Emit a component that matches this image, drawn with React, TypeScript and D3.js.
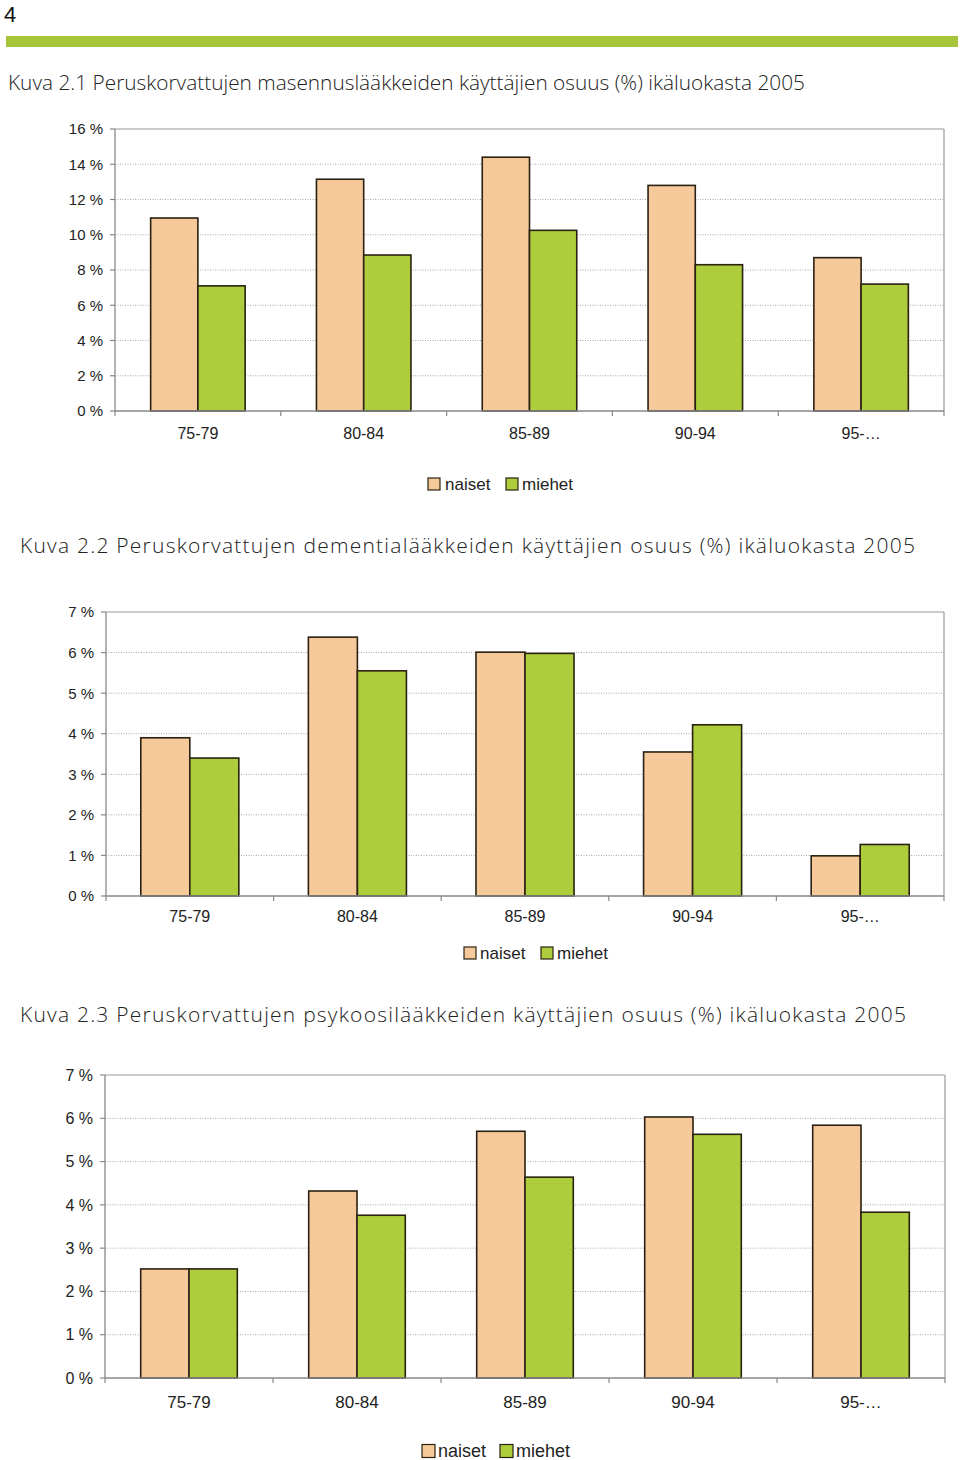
import React from "react";
import * as d3 from "d3";

const categories = ["75-79", "80-84", "85-89", "90-94", "95-…"];
const seriesNames = ["naiset", "miehet"];
const colors = ["#f6c99b", "#aecd3c"];

const masennusNaiset = [10.95, 13.15, 14.4, 12.8, 8.7];
const masennusMiehet = [7.1, 8.85, 10.25, 8.3, 7.2];
const masennusTicks = [0, 2, 4, 6, 8, 10, 12, 14, 16];

const dementiaNaiset = [3.9, 6.38, 6.01, 3.55, 0.99];
const dementiaMiehet = [3.4, 5.55, 5.98, 4.22, 1.27];
const dementiaTicks = [0, 1, 2, 3, 4, 5, 6, 7];

const psykoosiNaiset = [2.52, 4.32, 5.7, 6.03, 5.84];
const psykoosiMiehet = [2.52, 3.76, 4.64, 5.63, 3.83];
const psykoosiTicks = [0, 1, 2, 3, 4, 5, 6, 7];

const titles = [
  "Kuva 2.1 Peruskorvattujen masennuslääkkeiden käyttäjien osuus (%) ikäluokasta 2005",
  "Kuva 2.2 Peruskorvattujen dementialääkkeiden käyttäjien osuus (%) ikäluokasta 2005",
  "Kuva 2.3 Peruskorvattujen psykoosilääkkeiden käyttäjien osuus (%) ikäluokasta 2005",
];

const sans = "'Liberation Sans', Arial, sans-serif";
const titleFont = "'Open Sans', 'DejaVu Sans', sans-serif";

type ChartProps = {
  left: number; right: number; top: number; bottom: number;
  ticks: number[]; naiset: number[]; miehet: number[];
  tickFont: number; catFont: number; catY: number;
  legendY: number; legendXs: number[]; legendFont: number; legendSq: number;
  barFrac: number; tickLabelX: number;
};

function BarChart(p: ChartProps) {
  const maxV = p.ticks[p.ticks.length - 1];
  const y = d3.scaleLinear().domain([0, maxV]).range([p.bottom, p.top]);
  const x = d3.scaleBand<string>().domain(categories).range([p.left, p.right]).paddingInner(0).paddingOuter(0);
  const bw = x.bandwidth();
  const groupW = bw * p.barFrac;
  const x1 = d3.scaleBand<string>().domain(seriesNames).range([0, groupW]);
  const values = [p.naiset, p.miehet];
  const boundaries = categories.map((c) => x(c) as number).concat([p.right]);
  const [sq1, t1, sq2, t2] = p.legendXs;
  return (
    <g>
      {p.ticks.filter((t) => t > 0 && t < maxV).map((t) => (
        <line key={"g" + t} x1={p.left} x2={p.right} y1={y(t)} y2={y(t)} stroke="#aaa" strokeWidth={1} strokeDasharray="1,1.5" />
      ))}
      <line x1={p.left} x2={p.right} y1={p.top} y2={p.top} stroke="#999" strokeWidth={1.2} />
      <line x1={p.right} x2={p.right} y1={p.top} y2={p.bottom} stroke="#999" strokeWidth={1.2} />
      {categories.map((c, i) => (
        <g key={c}>
          {seriesNames.map((s, j) => {
            const bx = (x(c) as number) + (bw - groupW) / 2 + (x1(s) as number);
            const v = values[j][i];
            return (
              <rect key={s} x={bx} y={y(v)} width={x1.bandwidth()} height={p.bottom - y(v)} fill={colors[j]} stroke="#2a2112" strokeWidth={1.6} />
            );
          })}
          <text x={(x(c) as number) + bw / 2} y={p.catY} textAnchor="middle" fontFamily={sans} fontSize={p.catFont} fill="#222">{c}</text>
        </g>
      ))}
      <line x1={p.left} x2={p.left} y1={p.top} y2={p.bottom} stroke="#888" strokeWidth={1.3} />
      <line x1={p.left} x2={p.right} y1={p.bottom} y2={p.bottom} stroke="#888" strokeWidth={1.3} />
      {boundaries.map((b, i) => (
        <line key={"xt" + i} x1={b} x2={b} y1={p.bottom} y2={p.bottom + 5} stroke="#888" strokeWidth={1.2} />
      ))}
      {p.ticks.map((t) => (
        <g key={"yt" + t}>
          <line x1={p.left - 5} x2={p.left} y1={y(t)} y2={y(t)} stroke="#888" strokeWidth={1.2} />
          <text x={p.tickLabelX} y={y(t) + p.tickFont * 0.36} textAnchor="end" fontFamily={sans} fontSize={p.tickFont} fill="#222">{t + " %"}</text>
        </g>
      ))}
      <g>
        <rect x={sq1} y={p.legendY - p.legendSq / 2} width={p.legendSq} height={p.legendSq} fill={colors[0]} stroke="#2a2112" strokeWidth={1.2} />
        <text x={t1} y={p.legendY + p.legendFont * 0.36} fontFamily={sans} fontSize={p.legendFont} fill="#222">{seriesNames[0]}</text>
        <rect x={sq2} y={p.legendY - p.legendSq / 2} width={p.legendSq} height={p.legendSq} fill={colors[1]} stroke="#2a2112" strokeWidth={1.2} />
        <text x={t2} y={p.legendY + p.legendFont * 0.36} fontFamily={sans} fontSize={p.legendFont} fill="#222">{seriesNames[1]}</text>
      </g>
    </g>
  );
}

export default function App() {
  return (
    <svg width={960} height={1460} style={{ position: "absolute", left: 0, top: 0, background: "#fff" }}>
      <rect x={0} y={0} width={960} height={1460} fill="#fff" />
      <text x={4} y={22} fontFamily={sans} fontSize={22} fill="#111">4</text>
      <rect x={6} y={36} width={952} height={11} fill="#a6c53b" />
      <text x={8} y={90} fontFamily={titleFont} fontWeight={300} fontSize={21} fill="#222" textLength={797} lengthAdjust="spacingAndGlyphs">{titles[0]}</text>
      <text x={20} y={553} fontFamily={titleFont} fontWeight={300} fontSize={21} fill="#222" textLength={895} lengthAdjust="spacing">{titles[1]}</text>
      <text x={20} y={1022} fontFamily={titleFont} fontWeight={300} fontSize={21} fill="#222" textLength={886} lengthAdjust="spacing">{titles[2]}</text>

      <BarChart left={115} right={944} top={129} bottom={411} ticks={masennusTicks}
        naiset={masennusNaiset} miehet={masennusMiehet} tickFont={15} catFont={16} catY={439}
        legendY={484} legendXs={[428, 445, 506, 522]} legendFont={17} legendSq={12} barFrac={0.57} tickLabelX={103} />
      <BarChart left={106} right={944} top={612} bottom={896} ticks={dementiaTicks}
        naiset={dementiaNaiset} miehet={dementiaMiehet} tickFont={15} catFont={16} catY={922}
        legendY={953} legendXs={[464, 480, 541, 557]} legendFont={17} legendSq={12} barFrac={0.585} tickLabelX={94} />
      <BarChart left={105} right={945} top={1075} bottom={1378} ticks={psykoosiTicks}
        naiset={psykoosiNaiset} miehet={psykoosiMiehet} tickFont={16} catFont={17} catY={1408}
        legendY={1451} legendXs={[422, 438, 500, 516]} legendFont={18} legendSq={13} barFrac={0.575} tickLabelX={93} />
    </svg>
  );
}
